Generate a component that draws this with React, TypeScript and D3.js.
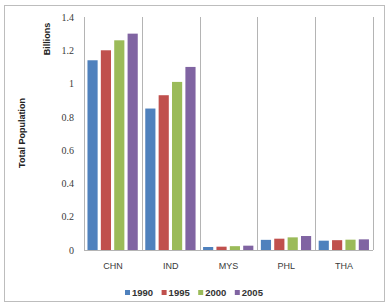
import * as d3 from 'd3';
import React, { useEffect, useRef } from 'react';

const countries = ["CHN", "IND", "MYS", "PHL", "THA"];
const years = ["1990", "1995", "2000", "2005"];
const yearColors = ["#4f81bd", "#c0504d", "#9bbb59", "#8064a2"];

// population in billions, one array per year, in country order
const pop1990 = [1.14, 0.85, 0.018, 0.061, 0.056];
const pop1995 = [1.20, 0.93, 0.020, 0.068, 0.059];
const pop2000 = [1.26, 1.01, 0.023, 0.076, 0.062];
const pop2005 = [1.30, 1.10, 0.026, 0.084, 0.064];
const yTicks = [0, 0.2, 0.4, 0.6, 0.8, 1, 1.2, 1.4];

const WIDTH = 387;
const HEIGHT = 303;

const App: React.FC = () => {
  const svgRef = useRef<SVGSVGElement>(null);

  useEffect(() => {
    if (!svgRef.current) { return; }
    const svg = d3.select(svgRef.current);
    svg.selectAll("*").remove();

    const series = [pop1990, pop1995, pop2000, pop2005];
    const margin = { top: 17, left: 84, right: 14, bottom: 53 };
    const plotW = WIDTH - margin.left - margin.right;
    const plotH = HEIGHT - margin.top - margin.bottom;

    // outer frame
    svg.append("rect")
      .attr("x", 4.5).attr("y", 5.5)
      .attr("width", 380).attr("height", 296)
      .attr("fill", "#fff")
      .attr("stroke", "#bdbdbd");

    const x0 = d3.scaleBand().domain(countries).range([0, plotW]).padding(0);
    const x1 = d3.scaleBand().domain(years)
      .range([x0.bandwidth() * 0.06, x0.bandwidth() * 0.93])
      .paddingInner(0.24).paddingOuter(0);
    const y = d3.scaleLinear().domain([0, 1.4]).range([plotH, 0]);

    const chart = svg.append("g")
      .attr("transform", `translate(${margin.left},${margin.top})`);

    // vertical separators between categories
    chart.append("g")
      .selectAll("line")
      .data([...countries.map(c => x0(c)!), plotW])
      .enter().append("line")
      .attr("x1", d => Math.round(d) + 0.5)
      .attr("x2", d => Math.round(d) + 0.5)
      .attr("y1", 0).attr("y2", plotH)
      .attr("stroke", "#b4b4b4");

    // bars
    countries.forEach((c, ci) => {
      chart.append("g")
        .attr("transform", `translate(${x0(c)},0)`)
        .selectAll("rect")
        .data(years)
        .enter().append("rect")
        .attr("x", yr => x1(yr)!)
        .attr("y", (yr, i) => y(series[i][ci]))
        .attr("width", x1.bandwidth())
        .attr("height", (yr, i) => plotH - y(series[i][ci]))
        .attr("fill", (yr, i) => yearColors[i]);
    });

    // baseline
    chart.append("line")
      .attr("x1", 0).attr("x2", plotW)
      .attr("y1", plotH + 0.5).attr("y2", plotH + 0.5)
      .attr("stroke", "#b4b4b4");

    // y axis labels
    const yAxis = chart.append("g")
      .attr("color", "#3a3a3a")
      .call(d3.axisLeft(y).tickValues(yTicks).tickSize(0).tickPadding(10)
        .tickFormat(d => `${+d}`));
    yAxis.select(".domain").remove();
    yAxis.selectAll("text")
      .attr("fill", "#3a3a3a")
      .style("font-family", "'Liberation Serif', serif")
      .style("font-size", "10px");

    // x axis labels
    const xAxis = chart.append("g")
      .attr("transform", `translate(0,${plotH})`)
      .attr("color", "#3a3a3a")
      .call(d3.axisBottom(x0).tickSize(0).tickPadding(13));
    xAxis.select(".domain").remove();
    xAxis.selectAll("text")
      .attr("fill", "#3a3a3a")
      .style("font-family", "'Liberation Sans', sans-serif")
      .style("font-size", "9px");

    // axis titles
    svg.append("text")
      .attr("transform", `translate(25,133) rotate(-90)`)
      .attr("text-anchor", "middle")
      .attr("fill", "#222")
      .style("font-family", "'Liberation Sans', sans-serif")
      .style("font-size", "9px")
      .style("font-weight", "bold")
      .text("Total Population");

    svg.append("text")
      .attr("transform", `translate(50,39) rotate(-90)`)
      .attr("text-anchor", "middle")
      .attr("fill", "#222")
      .style("font-family", "'Liberation Sans', sans-serif")
      .style("font-size", "9px")
      .style("font-weight", "bold")
      .text("Billions");

    // legend
    const legend = svg.append("g").attr("transform", "translate(125,293)");
    const items = legend.selectAll("g")
      .data(years)
      .enter().append("g")
      .attr("transform", (d, i) => `translate(${i * 36.6},0)`);
    items.append("rect")
      .attr("x", 0).attr("y", -3)
      .attr("width", 5).attr("height", 5)
      .attr("fill", (d, i) => yearColors[i]);
    items.append("text")
      .attr("x", 7).attr("y", 0)
      .attr("dy", "0.35em")
      .attr("fill", "#333")
      .style("font-family", "'Liberation Sans', sans-serif")
      .style("font-size", "9.5px")
      .style("font-weight", "bold")
      .text(d => d);
  }, []);

  return (
    <svg
      ref={svgRef}
      width={WIDTH}
      height={HEIGHT}
      style={{ position: "absolute", left: 0, top: 0, background: "#fff" }}
    />
  );
};

export default App;
